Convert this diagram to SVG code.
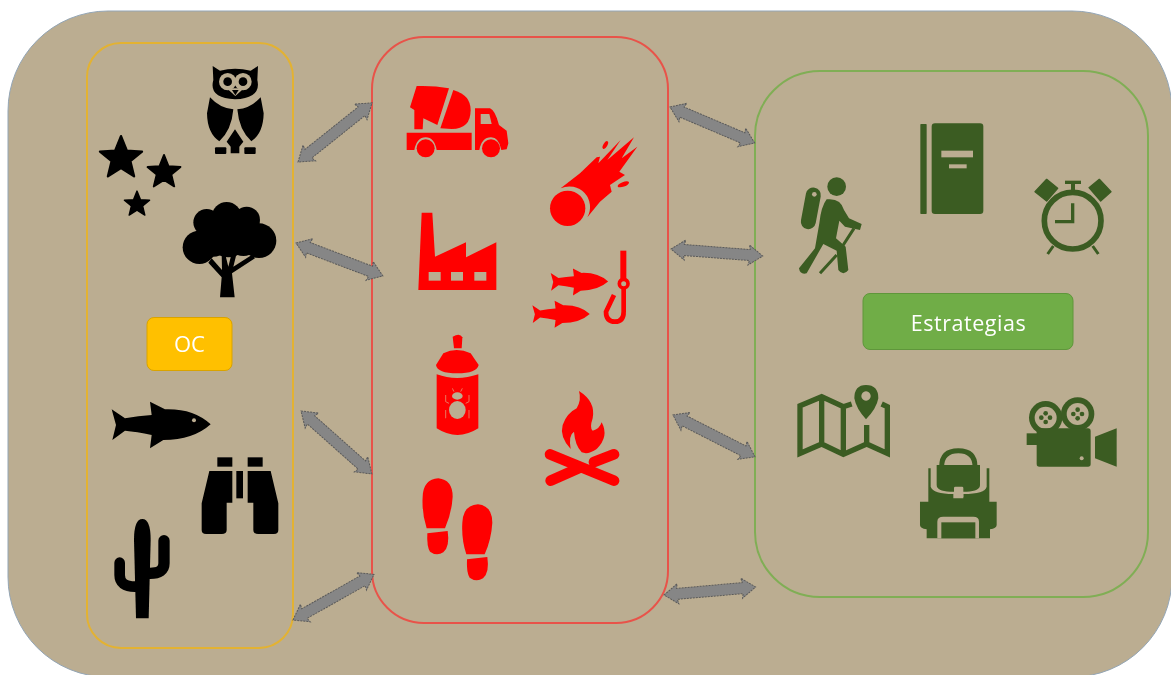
<svg xmlns="http://www.w3.org/2000/svg" xmlns:xlink="http://www.w3.org/1999/xlink" width="1171" height="675" viewBox="0 0 1171 675">
<style>
.bg{fill:#bbad91}
.k{fill:#000}.r{fill:#f00}.g{fill:#3b5b23}
.panel{fill:none;stroke-width:2}
.t{fill:#fff;font-family:"Open Sans","Noto Sans","Liberation Sans",sans-serif;text-anchor:middle}
.arrow{fill:#868686;stroke:#5a5a5a;stroke-width:1;stroke-dasharray:2 1}
</style>
<defs>
<filter id="soft" x="-5%" y="-5%" width="110%" height="110%"><feGaussianBlur stdDeviation="0.55"/></filter>
<path id="star" d="M0,-.95L.25,-.33L.9,-.29L.4,.12L.56,.77L0,.42L-.56,.77L-.4,.12L-.9,-.29L-.25,-.33Z" stroke="#000" stroke-width=".1" stroke-linejoin="round"/>
<path id="fish" d="M95,208L135,235Q175,228 215,225L210,185L255,208Q340,205 392,253Q340,300 250,300L210,325L215,285Q170,275 135,272L97,300L108,255Z"/>
<g id="shoe"><path d="M175,475Q218,480 218,530Q215,580 195,625L140,625Q125,580 128,530Q130,478 175,475Z"/><path d="M142,640L203,633Q210,680 190,697Q170,710 150,695Q140,680 142,640Z"/></g>
<path id="arw" class="arrow" d="M0,0L14,-10L13,-5.500H79L78,-10L92,0L78,10L79,5.500H13L14,10Z"/>
</defs>
<rect width="1171" height="675" fill="#fff"/>
<g filter="url(#soft)">
<rect id="background" class="bg" x="8" y="11" width="1164" height="666" rx="100" stroke="#93a5b5" stroke-width="1"/>

<g id="panel-oc"><rect class="panel" x="87" y="43" width="206" height="605" rx="34" stroke="#e3b232"/></g>
<g id="panel-threats"><rect class="panel" x="372" y="37" width="296" height="586" rx="52" stroke="#e8534a"/></g>
<g id="panel-strategies"><rect class="panel" x="755" y="71" width="393" height="526" rx="65" stroke="#80ae55"/></g>

<g id="connectors">
<use href="#arw" transform="translate(298 162) rotate(-38.6) scale(1.03 1)"/>
<use href="#arw" transform="translate(296 243) rotate(20.8) scale(1.01 1)"/>
<use href="#arw" transform="translate(301 411) rotate(41.6) scale(1.03 1)"/>
<use href="#arw" transform="translate(293 620) rotate(-29.4) scale(1.01 1)"/>
<use href="#arw" transform="translate(670 107) rotate(23)"/>
<use href="#arw" transform="translate(671 249) rotate(4.4)"/>
<use href="#arw" transform="translate(673 415) rotate(27)"/>
<use href="#arw" transform="translate(664 595) rotate(-5)"/>
</g>

<g id="oc-label"><rect x="147" y="317.500" width="85" height="53" rx="7" fill="#ffc000" stroke="#d9a300"/><text class="t" x="189.500" y="351.500" font-size="22">OC</text></g>
<g id="estrategias-label"><rect x="863" y="293.500" width="210" height="56" rx="7" fill="#70ad47" stroke="#5f963b"/><text class="t" x="968.500" y="330.500" font-size="21.500" letter-spacing=".55">Estrategias</text></g>

<g transform="translate(80 40) scale(.33333)">
<g id="owl" class="k"><path d="M398,78L420,92Q465,80 512,92L534,78L532,120Q545,175 465,178Q385,175 400,120Z"/><circle class="bg" cx="443" cy="125" r="26"/><circle class="bg" cx="489" cy="125" r="26"/><circle cx="443" cy="125" r="13"/><circle cx="489" cy="125" r="13"/><path class="bg" d="M440,145H492L466,168Z"/><path d="M456,150H476L466,166Z"/><path d="M390,172Q420,205 460,208Q455,270 418,304Q382,280 381,220Z"/><path d="M542,172Q512,205 472,208Q477,270 514,304Q550,280 551,220Z"/><path d="M465,268L490,305L478,320V340H452V320L440,305Z"/><rect x="405" y="322" width="34" height="20" rx="3"/><rect x="493" y="322" width="34" height="20" rx="3"/></g>
<g id="stars" class="k"><use href="#star" transform="translate(123 355) scale(70)"/><use href="#star" transform="translate(252 397) scale(55)"/><use href="#star" transform="translate(171 493) scale(42)"/></g>
<g id="tree" class="k"><circle cx="440" cy="530" r="44"/><circle cx="380" cy="547" r="40"/><circle cx="500" cy="540" r="40"/><circle cx="358" cy="622" r="50"/><circle cx="537" cy="602" r="52"/><circle cx="445" cy="590" r="62"/><circle cx="400" cy="600" r="50"/><circle cx="490" cy="598" r="50"/><path d="M420,772H464L456,700L525,655L515,645L460,680L470,640H455L445,680L435,640H425L426,690L395,655L385,668L425,712Z"/></g>
</g>

<g transform="translate(80 340) scale(.33333)">
<g id="fish-black" class="k"><use href="#fish"/><circle class="bg" cx="342" cy="241" r="6"/></g>
<g id="binoculars" class="k"><rect x="412" y="352" width="45" height="28"/><rect x="503" y="352" width="45" height="28"/><rect x="469" y="393" width="20" height="82"/><path d="M388,393H457V488H440V570Q440,582 425,582H378Q365,582 365,570V490Z"/><path d="M572,393H503V488H520V570Q520,582 535,582H582Q595,582 595,570V490Z"/></g>
<g id="cactus"><path class="k" d="M168,835L162,600Q162,537 187,537Q212,537 212,600L206,835Z"/><path d="M119,668V705Q119,740 165,740" fill="none" stroke="#000" stroke-width="32" stroke-linecap="round"/><path d="M252,602V670Q252,700 210,700" fill="none" stroke="#000" stroke-width="34" stroke-linecap="round"/></g>
</g>

<g transform="translate(380 60) scale(.33333)">
<g id="mixer-truck" class="r"><path d="M110,78Q160,76 207,85L172,195L130,175L128,208H103V150L90,142Z"/><path d="M220,90Q272,105 272,150Q272,207 215,207L181,205Z"/><path d="M285,145H330Q345,150 357,195L380,212L385,250L380,268L364,270Q357,232 333,232Q305,232 298,270H285Z"/><path class="bg" d="M302,162H328L335,192H302Z"/><path d="M80,218H275V270H170Q163,232 137,232Q110,232 103,270H80Z"/><circle cx="137" cy="265" r="27"/><circle cx="333" cy="265" r="27"/></g>
<g id="meteor" class="r"><circle cx="563" cy="445" r="53"/><path d="M542,385L600,340L650,292L660,290L655,310L722,240L682,300L762,232L725,295L772,260L718,335L735,345L690,375L695,395L660,425L622,472A62,62 0 0,0 542,385Z"/><ellipse cx="676" cy="255" rx="6" ry="13" transform="rotate(30 676 255)"/><ellipse cx="730" cy="373" rx="18" ry="7" transform="rotate(-20 730 373)"/></g>
<g id="factory" class="r"><path d="M125,458H157L165,590L258,547V592L349,547V690H115Z"/><rect class="bg" x="146" y="636" width="36" height="26"/><rect class="bg" x="213" y="636" width="36" height="26"/><rect class="bg" x="283" y="636" width="36" height="26"/></g>
<g id="overfishing" class="r"><use href="#fish" transform="translate(457 518) scale(.58)"/><use href="#fish" transform="translate(402 615) scale(.58)"/><rect x="721" y="572" width="18" height="85"/><circle cx="731" cy="671" r="13" fill="none" stroke="#f00" stroke-width="11"/><path d="M731,685V755Q731,785 705,785Q678,785 678,755L702,705" fill="none" stroke="#f00" stroke-width="14"/></g>
</g>

<g transform="translate(380 320) scale(.33333)">
<g id="spray" class="r"><path d="M218,50Q240,38 247,52L245,85H222Z"/><path d="M190,100Q230,80 272,100L296,135Q290,160 232,160Q172,160 168,135Z"/><path d="M170,163Q230,185 295,163V325Q232,365 170,325Z"/><g class="bg"><ellipse cx="232" cy="270" rx="25" ry="27"/><ellipse cx="232" cy="228" rx="16" ry="11"/></g><path d="M197,225V245L207,250M267,225V245L257,250M197,270V295M267,270V295M217,205L222,215M247,205L242,215" fill="none" stroke="#e88a70" stroke-width="2.500"/></g>
<g id="campfire" class="r"><path d="M597,213Q648,245 638,295Q628,325 638,332Q658,328 665,307Q688,350 650,387Q625,405 605,397Q585,375 582,335Q565,345 572,387Q538,350 548,315Q560,280 590,265Q605,240 597,213Z"/><path d="M510,403L702,482M512,482L595,445M642,426L702,403" fill="none" stroke="#f00" stroke-width="32" stroke-linecap="round"/></g>
<g id="footprints" class="r"><use href="#shoe"/><use href="#shoe" transform="translate(119 78)"/></g>
</g>

<g transform="translate(780 100) scale(.33333)">
<g id="hiker" class="g"><circle cx="170" cy="260" r="28"/><path d="M100,285L85,365" fill="none" stroke="#3b5b23" stroke-width="45" stroke-linecap="round"/><circle class="bg" cx="103" cy="283" r="7"/><path d="M140,298Q182,293 192,330L207,355L245,372L240,390L195,380L178,362L168,415L197,440L205,510Q190,530 175,510L170,452L130,432L80,520Q60,525 57,505L105,445L118,370Q123,320 140,298Z"/><path d="M222,385L180,450M170,465L120,520" fill="none" stroke="#3b5b23" stroke-width="9"/></g>
<g id="notebook" class="g"><rect x="421" y="72" width="19" height="270" rx="2"/><rect x="455" y="70" width="155" height="272" rx="10"/><rect class="bg" x="484" y="152" width="95" height="20"/><rect class="bg" x="507" y="193" width="53" height="12"/></g>
<g id="alarm-clock" class="g"><circle cx="878" cy="362" r="85" fill="none" stroke="#3b5b23" stroke-width="17"/><path d="M878,310V365H825" fill="none" stroke="#3b5b23" stroke-width="10"/><path d="M765,275L800,238L833,265L800,303Z" stroke="#3b5b23" stroke-width="4" stroke-linejoin="round"/><path d="M927,263L958,238L993,275L962,303Z" stroke="#3b5b23" stroke-width="4" stroke-linejoin="round"/><rect x="855" y="242" width="48" height="10"/><rect x="873" y="250" width="12" height="25"/><path d="M820,438L803,462M938,438L955,462" stroke="#3b5b23" stroke-width="9"/></g>
</g>

<g transform="translate(780 290) scale(.33333)">
<g id="map" class="g"><path d="M215,342L190,350L125,320L60,347V490L125,462L190,493L260,462L322,490V350L305,342M125,320V462M190,350V493M260,405V462" fill="none" stroke="#3b5b23" stroke-width="16"/><path fill-rule="evenodd" d="M258,285Q295,285 295,325Q290,355 258,388Q228,355 223,325Q223,285 258,285ZM258,304a14,14 0 1,0 .1,0Z"/></g>
<g id="film-camera" class="g"><circle cx="797" cy="383" r="50"/><circle cx="893" cy="372" r="50"/><circle class="bg" cx="797" cy="383" r="33"/><circle class="bg" cx="893" cy="372" r="33"/><circle cx="797" cy="370" r="7"/><circle cx="797" cy="396" r="7"/><circle cx="784" cy="383" r="7"/><circle cx="810" cy="383" r="7"/><circle cx="893" cy="359" r="7"/><circle cx="893" cy="385" r="7"/><circle cx="880" cy="372" r="7"/><circle cx="906" cy="372" r="7"/><rect x="770" y="415" width="162" height="115" rx="8"/><rect x="740" y="430" width="32" height="35"/><path d="M945,440L1010,415V530L945,505Z"/><circle class="bg" cx="905" cy="505" r="6"/></g>
<g id="backpack" class="g"><path d="M485,530Q485,482 535,482Q585,482 585,530" fill="none" stroke="#3b5b23" stroke-width="15"/><path d="M470,525H600V585Q600,603 560,605H510Q470,603 470,585Z"/><path d="M445,535H452V590Q460,612 520,612V625H550V612Q615,612 620,590V535H628V635H650V705Q650,715 630,718V745H440V718Q420,715 420,705V635H445Z"/><rect class="bg" x="522" y="590" width="28" height="33" rx="4"/><path class="bg" d="M472,745V695Q472,680 490,680H580Q597,680 597,695V745Z"/><rect x="484" y="697" width="102" height="48"/></g>
</g>
</g>
</svg>
